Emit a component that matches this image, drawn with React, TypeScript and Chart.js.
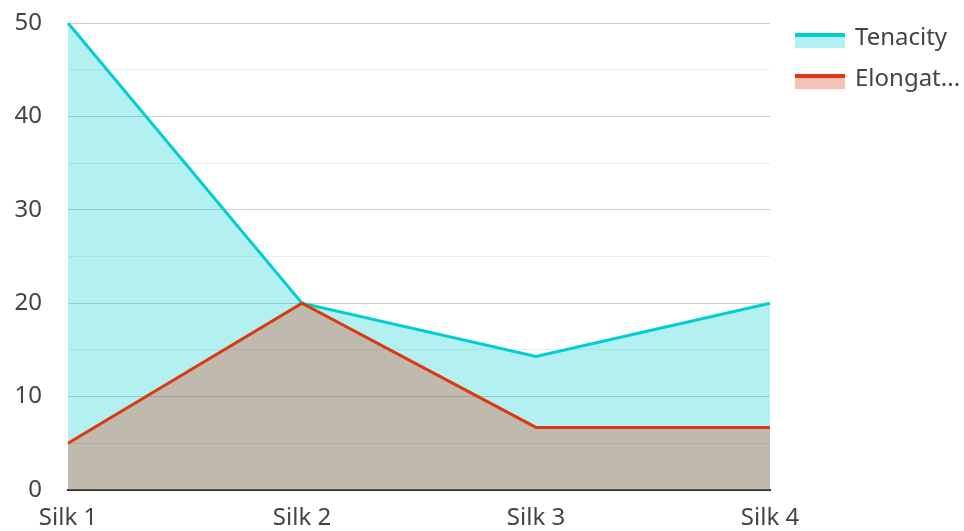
import React, { useEffect, useRef } from "react";
import { Chart, registerables } from "chart.js";

Chart.register(...registerables);

const categories = ["Silk 1", "Silk 2", "Silk 3", "Silk 4"];
const tenacity = [50, 20, 14.3, 20];
const elongation = [5, 20, 6.7, 6.7];
const seriesNames = ["Tenacity", "Elongation"];
const yTicks = [0, 10, 20, 30, 40, 50];

const FONT = "'Noto Sans', sans-serif";
const FS = 24;
const TEXT = "#444444";
const C1 = "#00CED1";
const C2 = "#DC3912";

const legendPlugin = {
  id: "customLegend",
  afterDraw(chart: any) {
    const ctx = chart.ctx;
    const items = chart.data.datasets.map((d: any) => ({ label: d.label, color: d.borderColor, fill: d.backgroundColor }));
    ctx.save();
    ctx.font = `${FS}px ${FONT}`;
    ctx.textBaseline = "middle";
    ctx.textAlign = "left";
    const maxW = 108;
    items.forEach((it: any, i: number) => {
      const y = 33 + i * 41;
      ctx.fillStyle = it.fill;
      ctx.fillRect(795, y, 50, 15);
      ctx.fillStyle = it.color;
      ctx.fillRect(795, y, 50, 4);
      let t = it.label;
      if (ctx.measureText(t).width > maxW) {
        while (t.length > 1 && ctx.measureText(t + "...").width > maxW) t = t.slice(0, -1);
        t = t + "...";
      }
      ctx.fillStyle = TEXT;
      ctx.fillText(t, 855, y + 5);
    });
    ctx.restore();
  },
};

export default function App() {
  const ref = useRef<HTMLCanvasElement>(null);
  useEffect(() => {
    const chart = new Chart(ref.current!, {
      type: "line",
      data: {
        labels: categories,
        datasets: [
          {
            label: seriesNames[0],
            data: tenacity,
            borderColor: C1,
            backgroundColor: "rgba(0,206,209,0.3)",
            borderWidth: 3,
            pointRadius: 0,
            fill: "origin",
            order: 1,
            tension: 0,
          },
          {
            label: seriesNames[1],
            data: elongation,
            borderColor: C2,
            backgroundColor: "rgba(220,57,18,0.3)",
            borderWidth: 3,
            pointRadius: 0,
            fill: "origin",
            order: 0,
            tension: 0,
          },
        ],
      },
      options: {
        animation: false,
        responsive: false,
        maintainAspectRatio: false,
        layout: { padding: { left: 8, right: 194, top: 23, bottom: 0 } },
        plugins: { legend: { display: false }, tooltip: { enabled: false } },
        scales: {
          x: {
            offset: false,
            grid: { display: false, drawTicks: false },
            border: { display: true, color: "#333333", width: 2 },
            ticks: { color: TEXT, font: { family: FONT, size: FS }, padding: 14, maxRotation: 0 },
            afterFit: (s: any) => { s.height = 41; s.paddingTop = 0; s.paddingBottom = 0; },
          },
          y: {
            min: 0,
            max: 50,
            border: { display: false },
            grid: {
              drawTicks: false,
              color: (c: any) => (yTicks.includes(c.tick?.value) ? "#cccccc" : "#ebebeb"),
              lineWidth: 1,
            },
            ticks: {
              stepSize: 5,
              color: TEXT,
              font: { family: FONT, size: FS },
              padding: 26,
              callback: (v: any) => (yTicks.includes(Number(v)) ? String(v) : ""),
            },
            afterFit: (s: any) => { s.width = 60; s.paddingTop = 0; s.paddingBottom = 0; },
          },
        },
      },
      plugins: [legendPlugin],
    });
    return () => chart.destroy();
  }, []);
  return (
    <div style={{ position: "fixed", left: 0, top: 0, width: 964, height: 531 }}>
      <canvas ref={ref} width={964} height={531} style={{ width: 964, height: 531, display: "block" }} />
    </div>
  );
}
